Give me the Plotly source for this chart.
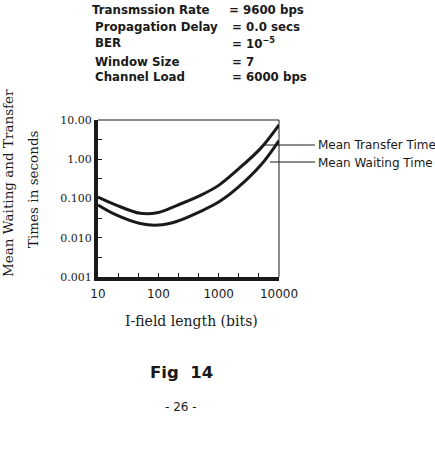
import plotly.graph_objects as go

# ---- data ----
ifield_bits = [10, 20, 50, 100, 200, 500, 1000, 2000, 5000, 10000]
mean_transfer_time = [0.109, 0.068, 0.042, 0.044, 0.066, 0.12, 0.216, 0.52, 1.92, 7.5]
mean_waiting_time = [0.068, 0.038, 0.023, 0.021, 0.026, 0.047, 0.081, 0.18, 0.71, 3.0]

x_tick_values = [10 ** (1 + k / 3) for k in range(10)]
x_tick_labels = ["10", "", "", "100", "", "", "1000", "", "", "10000"]
y_tick_values = [10 ** (k / 2) for k in range(-6, 3)]
y_tick_labels = ["0.001", "", "0.010", "", "0.100", "", "1.00", "", "10.00"]

header_labels = ["Transmssion Rate", "Propagation Delay", "BER", "Window Size", "Channel Load"]
header_values = ["= 9600 bps", "= 0.0 secs", "= 10<sup>\u22125</sup>", "= 7", "= 6000 bps"]

W, H = 435, 473
L, R, T, B = 98, 279, 120, 277


def px(x):
    return (x - L) / (R - L)


def py(y):
    return (B - y) / (B - T)


ink = "#1a1a1a"
fig = go.Figure()
fig.add_trace(go.Scatter(x=ifield_bits, y=mean_transfer_time, mode="lines",
                         line=dict(color=ink, width=3, shape="spline", smoothing=1.0),
                         name="Mean Transfer Time"))
fig.add_trace(go.Scatter(x=ifield_bits, y=mean_waiting_time, mode="lines",
                         line=dict(color=ink, width=3, shape="spline", smoothing=1.0),
                         name="Mean Waiting Time"))

fig.update_layout(
    width=W, height=H,
    margin=dict(l=L, r=W - R, t=T, b=H - B),
    paper_bgcolor="white", plot_bgcolor="white",
    showlegend=False,
    xaxis=dict(type="log", range=[1, 4], tickvals=x_tick_values, ticktext=x_tick_labels,
               ticks="inside", ticklen=4, tickwidth=1, tickcolor=ink,
               showline=True, linewidth=4, linecolor=ink, showgrid=False, zeroline=False,
               ticklabelstandoff=3,
               tickfont=dict(family="DejaVu Sans", size=12, color=ink)),
    yaxis=dict(type="log", range=[-3, 1], tickvals=y_tick_values, ticktext=y_tick_labels,
               ticks="inside", ticklen=4, tickwidth=1, tickcolor=ink,
               showline=True, linewidth=4, linecolor=ink, showgrid=False, zeroline=False,
               tickfont=dict(family="DejaVu Serif", size=11, color=ink)),
)

# thin top and right frame lines
fig.add_shape(type="line", xref="paper", yref="paper", x0=0, y0=1, x1=1, y1=1,
              line=dict(color=ink, width=1))
fig.add_shape(type="line", xref="paper", yref="paper", x0=1, y0=1, x1=1, y1=0,
              line=dict(color=ink, width=1))

# leader lines for curve labels
fig.add_shape(type="line", xref="paper", yref="paper", x0=px(265), y0=py(145), x1=px(315), y1=py(145),
              line=dict(color=ink, width=1))
fig.add_shape(type="line", xref="paper", yref="paper", x0=px(270), y0=py(162), x1=px(315), y1=py(162),
              line=dict(color=ink, width=1))

ann = []
for txt, yy in [("Mean Transfer Time", 145), ("Mean Waiting Time", 163)]:
    ann.append(dict(text=txt, x=px(316), y=py(yy), xanchor="left", yanchor="middle",
                    xref="paper", yref="paper", showarrow=False,
                    font=dict(family="DejaVu Sans", size=12, color=ink)))

header_y = [10, 27, 43, 62, 77]
for i, (lab, val) in enumerate(zip(header_labels, header_values)):
    ann.append(dict(text=lab, x=px(90 if i == 0 else 93), y=py(header_y[i]), xanchor="left",
                    yanchor="middle", xref="paper", yref="paper", showarrow=False,
                    font=dict(family="DejaVu Sans", size=11.8, color=ink, weight="bold")))
    ann.append(dict(text=val, x=px(227 if i == 0 else 230), y=py(header_y[i]), xanchor="left",
                    yanchor="middle", xref="paper", yref="paper", showarrow=False,
                    font=dict(family="DejaVu Sans", size=11.8, color=ink, weight="bold")))

ann.append(dict(text="Mean Waiting and Transfer", x=px(8), y=py(183), textangle=-90,
                xanchor="center", yanchor="middle", xref="paper", yref="paper", showarrow=False,
                font=dict(family="DejaVu Serif", size=13.5, color=ink)))
ann.append(dict(text="Times in seconds", x=px(33), y=py(189), textangle=-90,
                xanchor="center", yanchor="middle", xref="paper", yref="paper", showarrow=False,
                font=dict(family="DejaVu Serif", size=13.5, color=ink)))
ann.append(dict(text="I-field length (bits)", x=px(191), y=py(321),
                xanchor="center", yanchor="middle", xref="paper", yref="paper", showarrow=False,
                font=dict(family="DejaVu Serif", size=14, color=ink)))
ann.append(dict(text="Fig  14", x=px(181), y=py(372),
                xanchor="center", yanchor="middle", xref="paper", yref="paper", showarrow=False,
                font=dict(family="DejaVu Sans", size=16.5, color=ink, weight="bold")))
ann.append(dict(text="- 26 -", x=px(181), y=py(407),
                xanchor="center", yanchor="middle", xref="paper", yref="paper", showarrow=False,
                font=dict(family="DejaVu Sans", size=12, color=ink)))
fig.update_layout(annotations=ann)

fig.write_html("out.html")
